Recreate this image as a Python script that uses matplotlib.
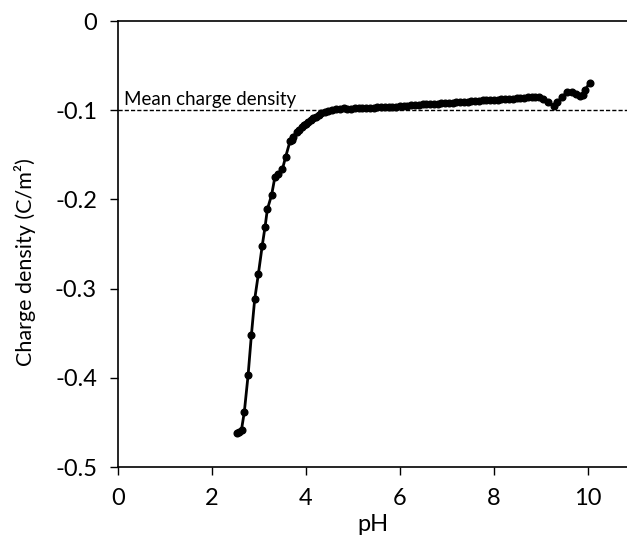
import numpy as np
import matplotlib.pyplot as plt

plt.rcParams['font.family'] = ['Lato', 'DejaVu Sans']

# pH vs charge density
ph = [2.53, 2.58, 2.63, 2.69, 2.77, 2.84, 2.91, 2.99, 3.07, 3.13, 3.18, 3.27,
      3.34, 3.41, 3.50, 3.57, 3.66, 3.70, 3.73, 3.80, 3.86, 3.91, 3.96, 4.00,
      4.05, 4.10, 4.15, 4.21, 4.27, 4.33, 4.40, 4.48, 4.56, 4.64, 4.72, 4.80,
      4.88, 4.96, 5.04, 5.12, 5.20, 5.28, 5.36, 5.44, 5.52, 5.60, 5.68, 5.76,
      5.84, 5.92, 6.00, 6.08, 6.16, 6.24, 6.32, 6.40, 6.48, 6.56, 6.64, 6.72,
      6.80, 6.88, 6.96, 7.04, 7.12, 7.20, 7.28, 7.36, 7.44, 7.52, 7.60, 7.68,
      7.76, 7.84, 7.92, 8.00, 8.08, 8.16, 8.24, 8.32, 8.40, 8.48, 8.56, 8.64,
      8.72, 8.80, 8.88, 8.96, 9.05, 9.15, 9.27, 9.35, 9.45, 9.55, 9.65, 9.75,
      9.83, 9.90, 9.94, 10.04]
sigma = [-0.462, -0.461, -0.458, -0.438, -0.397, -0.352, -0.312, -0.283, -0.252,
         -0.231, -0.211, -0.195, -0.175, -0.171, -0.166, -0.152, -0.135, -0.133,
         -0.130, -0.124, -0.122, -0.119, -0.117, -0.115, -0.113, -0.111, -0.109,
         -0.107, -0.105, -0.103, -0.1015, -0.1005, -0.0995, -0.099, -0.0985,
         -0.098, -0.0985, -0.0985, -0.098, -0.098, -0.0975, -0.0978, -0.0972,
         -0.097, -0.0968, -0.0965, -0.0965, -0.0962, -0.096, -0.096, -0.0955,
         -0.0955, -0.095, -0.0945, -0.094, -0.0938, -0.0935, -0.0935, -0.093,
         -0.093, -0.0925, -0.0922, -0.092, -0.0918, -0.0915, -0.0912, -0.091,
         -0.0908, -0.0905, -0.090, -0.090, -0.0895, -0.089, -0.089, -0.0888,
         -0.0885, -0.088, -0.0878, -0.0875, -0.0872, -0.087, -0.0865, -0.086,
         -0.0858, -0.0855, -0.0852, -0.085, -0.0855, -0.087, -0.091, -0.0955,
         -0.091, -0.085, -0.080, -0.080, -0.082, -0.084, -0.083, -0.077, -0.069]
mean_sigma = -0.1

fig = plt.figure(figsize=(6.27, 5.4), dpi=100)
ax = fig.add_axes([0.188, 0.135, 0.812, 0.826])

ax.plot(ph, sigma, color='black', lw=2, marker='o', ms=4.8, zorder=3)
ax.axhline(mean_sigma, color='black', lw=1, ls=(0, (3, 1.5)), zorder=2)
ax.text(0.12, mean_sigma + 0.003, 'Mean charge density', fontsize=13.5, va='bottom')

ax.set_xlim(0, 10.83)
ax.set_ylim(-0.5, 0)
ax.set_xticks([0, 2, 4, 6, 8, 10])
ax.set_yticks([0, -0.1, -0.2, -0.3, -0.4, -0.5])
ax.set_yticklabels(['0', '-0.1', '-0.2', '-0.3', '-0.4', '-0.5'])
ax.tick_params(direction='out', length=6, width=1, labelsize=17, pad=9)
ax.spines['right'].set_visible(False)
for s in ['left', 'bottom', 'top']:
    ax.spines[s].set_linewidth(1.2)

ax.set_xlabel('pH', fontsize=17, labelpad=4)
ax.set_ylabel('Charge density (C/m²)', fontsize=15.5)
ax.yaxis.set_label_coords(-0.16, 0.46)

fig.savefig('out.png', dpi=100)
